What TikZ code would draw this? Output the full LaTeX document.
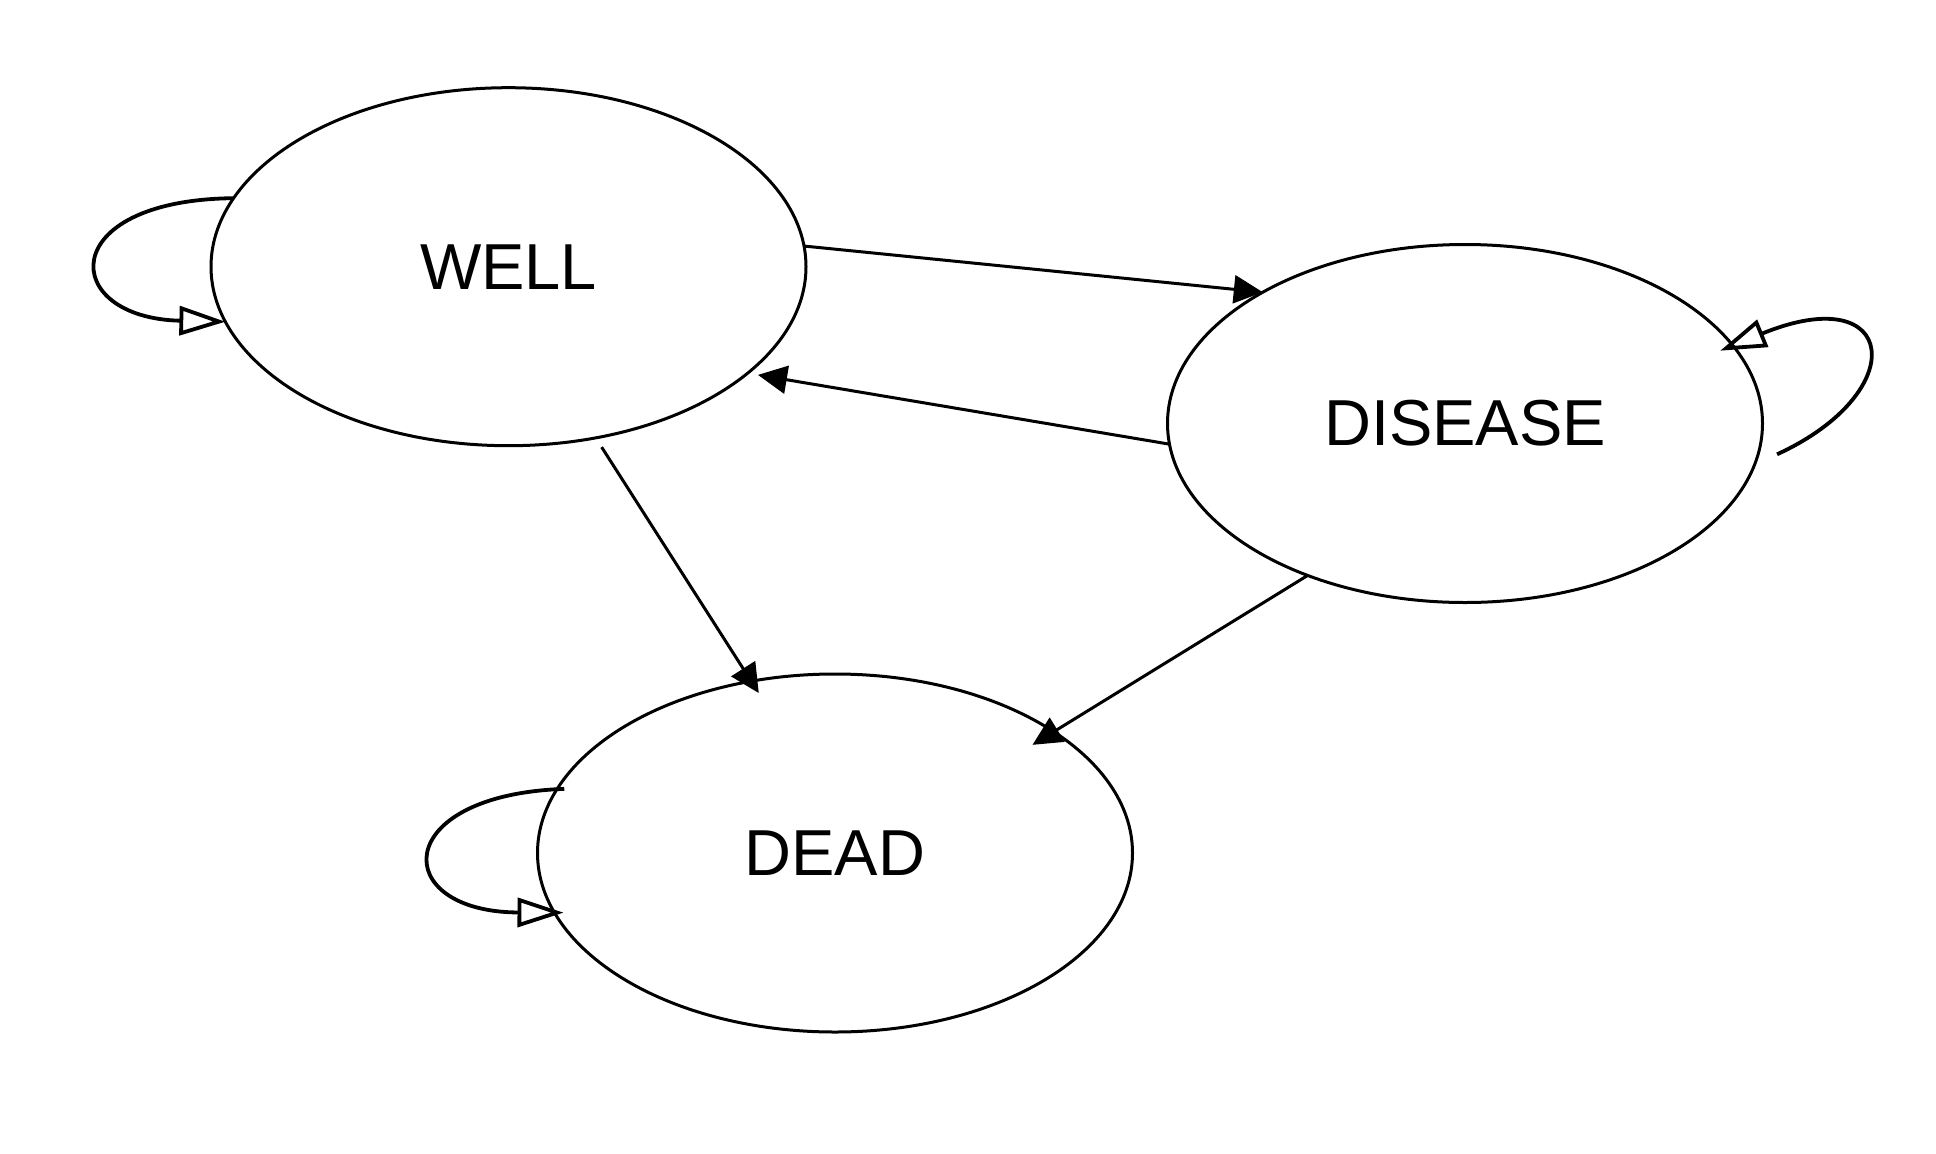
\documentclass[tikz,border=0pt]{standalone}
\usepackage{fontspec}
\setmainfont{Liberation Sans}
\usepackage{tikz}
\usetikzlibrary{arrows.meta, shapes.geometric}

\begin{document}
\begin{tikzpicture}[
        x=1pt, y=-1pt,
        font=\fontsize{65}{78}\selectfont,
        state/.style={
            draw,
            ellipse,
            line width=3pt,
            minimum width=595pt,
            minimum height=358pt,
            inner sep=0pt,
            outer sep=0pt
        },
        arrow/.style={-{Triangle[length=29pt, width=28pt]}, line width=3pt},
        selfloop/.style={-{Triangle[open, length=46pt, width=29pt]}, line width=3.8pt}
    ]

        \useasboundingbox (0,0) rectangle (1936,1154);

        % ---- Nodes ----
        \node[state] (well) at (508.5,266.7) {WELL};
        \node[state] (disease) at (1465,423.5) {DISEASE};
        \node[state] (dead) at (835,853) {DEAD};

        % ---- Arrows ----
        \draw[arrow] (well.4.4) -- (disease.147.6);
        \draw[arrow, shorten >=10.5pt] (disease.184.3) -- (well.-24);
        \draw[arrow, shorten <=11pt, shorten >=-14pt] (well.-63) -- (dead.116.2);
        \draw[arrow, shorten >=-25pt] (disease.224) -- (dead.29.7);

        % ---- Self loops ----
        \draw[selfloop] (well.166.5) .. controls (54,200) and (59,318) .. (well.191.4);
        \draw[selfloop] ([xshift=19pt]disease.-6.3) .. controls (1913,392) and (1898,278) .. ([xshift=-16.5pt]disease.15.6);
        \draw[selfloop] ([xshift=7pt]dead.167.4) .. controls (389,795) and (389,912) .. ([xshift=9pt]dead.192.9);

    \end{tikzpicture}
\end{document}
